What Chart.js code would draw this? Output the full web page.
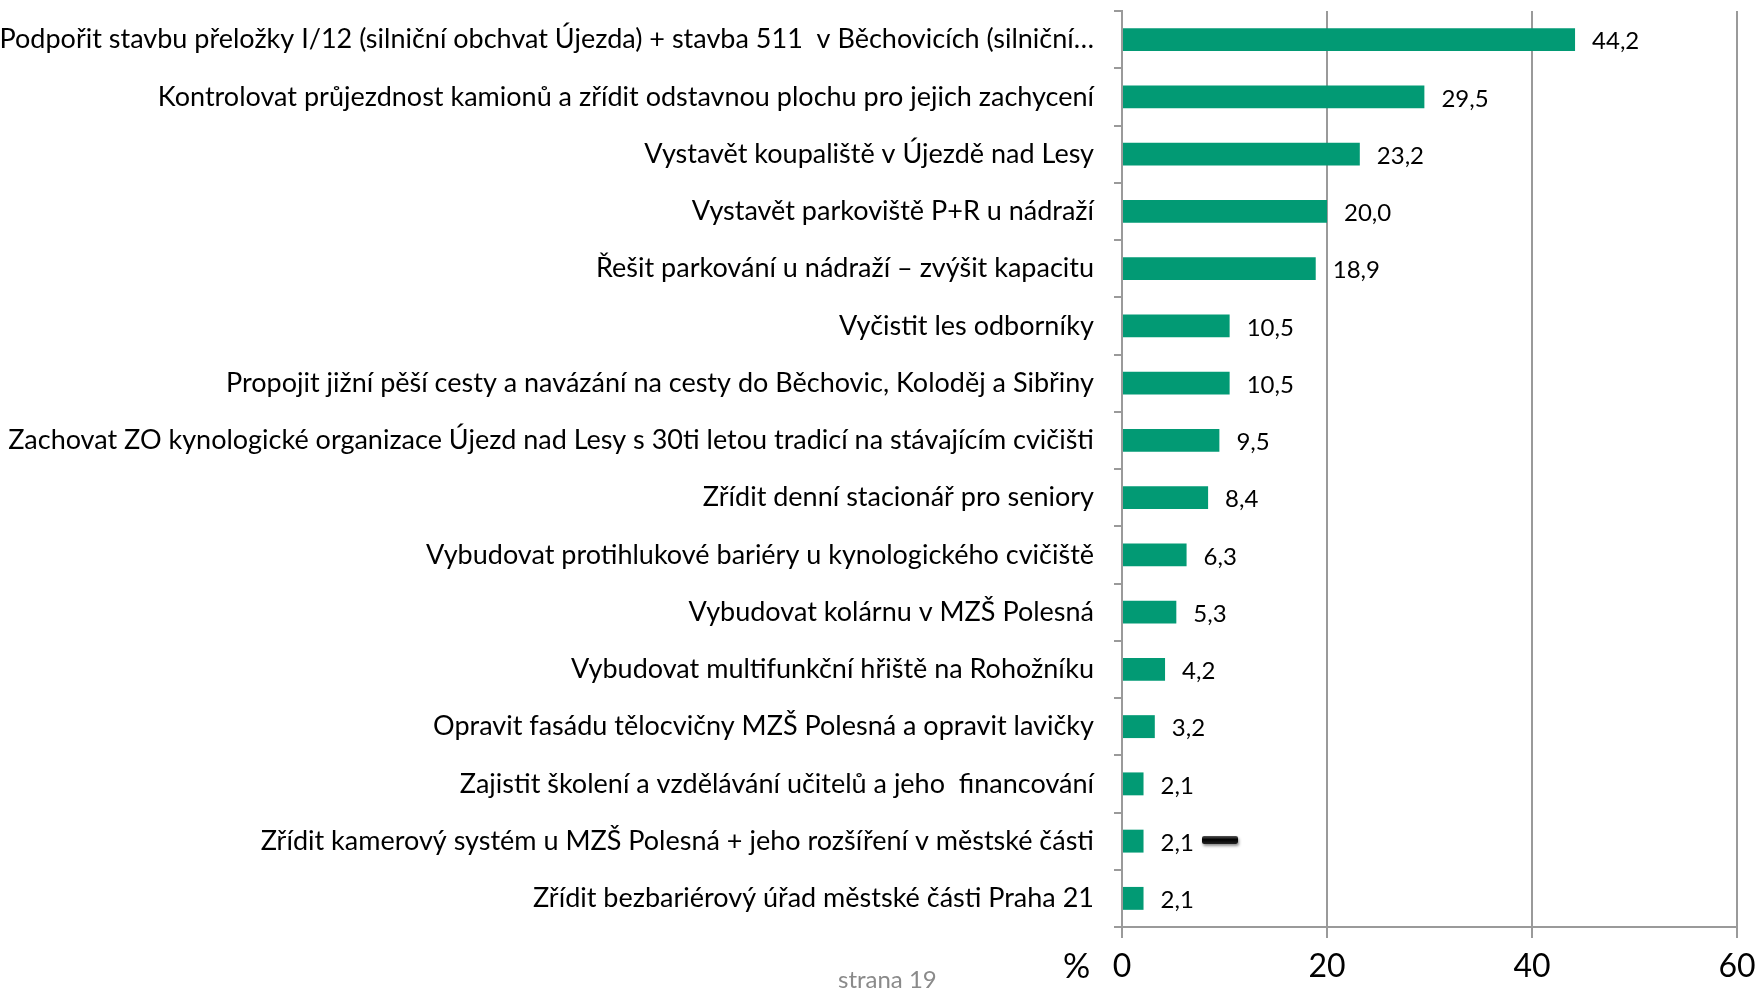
<!DOCTYPE html>
<html lang="cs">
<head>
    <meta charset="UTF-8">
    <title>Priority</title>
    <script src="https://cdn.jsdelivr.net/npm/chart.js"></script>
    <style>
        html, body { margin: 0; padding: 0; background: #fff; }
        .wrap { position: relative; width: 1756px; height: 990px; }
        .pct { position: absolute; left: 1063px; top: 944px; font: 34px Lato, sans-serif; color: #000; }
        .page { position: absolute; left: 838px; top: 964px; font: 24px Lato, sans-serif; color: #8a8a8a; }
        .blip { position: absolute; left: 1202px; top: 836px; width: 36px; height: 8px; border-radius: 2px;
                background: linear-gradient(#555, #000 45%, #222); box-shadow: 1px 2px 3px rgba(0,0,0,0.45); }
    </style>
</head>
<body>
    <div class="wrap">
        <canvas id="chart" width="1756" height="990"></canvas>
        <div class="pct">%</div>
        <div class="page">strana 19</div>
        <div class="blip"></div>
    </div>

    <script>
        // kategorie a hodnoty (%)
        const labels = [
            'Podpořit stavbu přeložky I/12 (silniční obchvat Újezda) + stavba 511  v Běchovicích (silniční…',
            'Kontrolovat průjezdnost kamionů a zřídit odstavnou plochu pro jejich zachycení',
            'Vystavět koupaliště v Újezdě nad Lesy',
            'Vystavět parkoviště P+R u nádraží',
            'Řešit parkování u nádraží – zvýšit kapacitu',
            'Vyčistit les odborníky',
            'Propojit jižní pěší cesty a navázání na cesty do Běchovic, Koloděj a Sibřiny',
            'Zachovat ZO kynologické organizace Újezd nad Lesy s 30ti letou tradicí na stávajícím cvičišti',
            'Zřídit denní stacionář pro seniory',
            'Vybudovat protihlukové bariéry u kynologického cvičiště',
            'Vybudovat kolárnu v MZŠ Polesná',
            'Vybudovat multifunkční hřiště na Rohožníku',
            'Opravit fasádu tělocvičny MZŠ Polesná a opravit lavičky',
            'Zajistit školení a vzdělávání učitelů a jeho  financování',
            'Zřídit kamerový systém u MZŠ Polesná + jeho rozšíření v městské části',
            'Zřídit bezbariérový úřad městské části Praha 21'
        ];
        const values = [44.2, 29.5, 23.2, 20.0, 18.9, 10.5, 10.5, 9.5, 8.4, 6.3, 5.3, 4.2, 3.2, 2.1, 2.1, 2.1];
        const xTicks = [0, 20, 40, 60];

        const barColor = '#029a74';
        const gridColor = '#9a9a9a';

        // popisky hodnot u sloupců
        const valueLabels = {
            id: 'valueLabels',
            afterDatasetsDraw(chart) {
                const ctx = chart.ctx;
                const meta = chart.getDatasetMeta(0);
                ctx.save();
                ctx.font = '24px Lato, sans-serif';
                ctx.fillStyle = '#000';
                ctx.textBaseline = 'middle';
                ctx.textAlign = 'left';
                meta.data.forEach((bar, i) => {
                    const txt = values[i].toFixed(1).replace('.', ',');
                    ctx.fillText(txt, bar.x + 17, bar.y + 2);
                });
                ctx.restore();
            }
        };

        new Chart(document.getElementById('chart'), {
            type: 'bar',
            data: {
                labels: labels,
                datasets: [{
                    data: values,
                    backgroundColor: barColor,
                    barPercentage: 0.4,
                    categoryPercentage: 1.0
                }]
            },
            options: {
                indexAxis: 'y',
                responsive: false,
                animation: false,
                layout: { padding: { top: 11, right: 0, left: 0, bottom: 0 } },
                plugins: {
                    legend: { display: false },
                    tooltip: { enabled: false }
                },
                scales: {
                    x: {
                        min: 0,
                        max: 60,
                        afterBuildTicks: axis => { axis.ticks = xTicks.map(v => ({ value: v })); },
                        afterFit: axis => {
                            axis.height = 63;
                            axis.paddingLeft = 0;
                            axis.paddingRight = 19;
                        },
                        border: { color: gridColor, width: 2 },
                        grid: { color: gridColor, lineWidth: 2, tickLength: 11 },
                        ticks: { color: '#000', font: { family: 'Lato', size: 32 }, padding: 9 }
                    },
                    y: {
                        afterFit: axis => {
                            axis.width = 1122;
                            axis.paddingTop = 0;
                            axis.paddingBottom = 0;
                        },
                        border: { color: gridColor, width: 2 },
                        grid: { color: gridColor, lineWidth: 2, drawOnChartArea: false, tickLength: 8 },
                        ticks: { color: '#000', font: { family: 'Lato', size: 27 }, padding: 20, autoSkip: false }
                    }
                }
            },
            plugins: [valueLabels]
        });
    </script>
</body>
</html>
